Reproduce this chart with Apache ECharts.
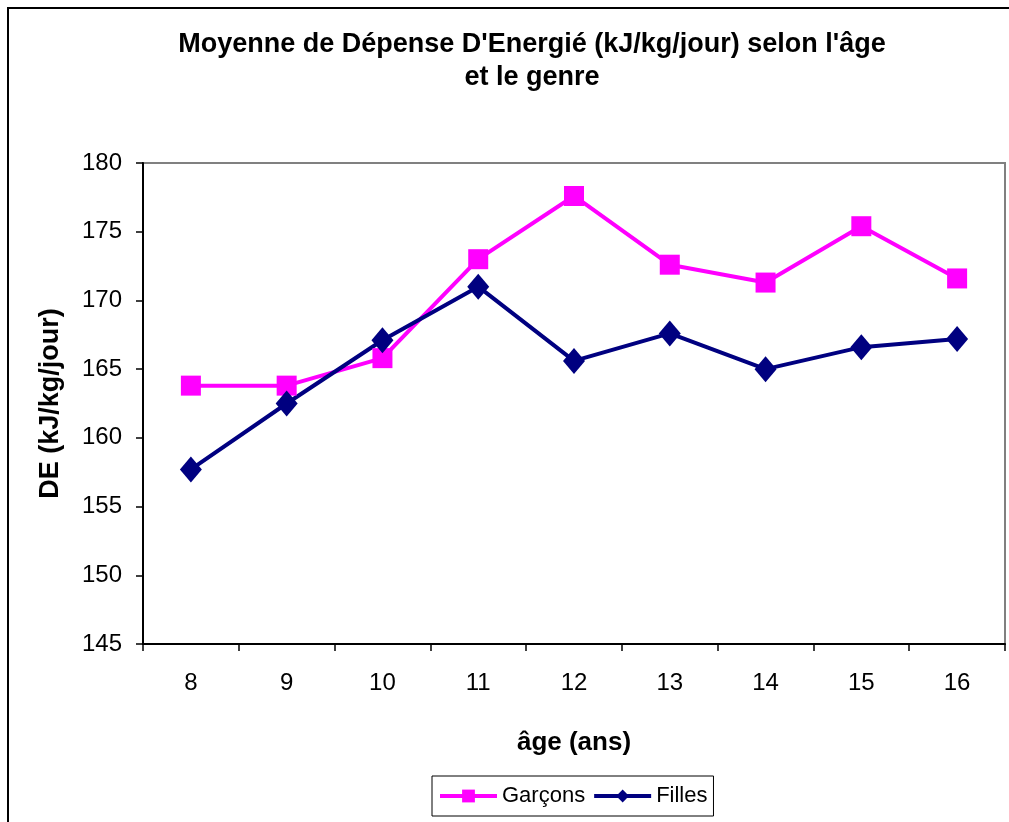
<!DOCTYPE html>
<html><head><meta charset="utf-8">
<script src="https://cdn.jsdelivr.net/npm/echarts@6/dist/echarts.min.js"></script>
<style>html,body{margin:0;padding:0;background:#fff}#c{width:1009px;height:822px}</style>
</head><body><div id="c"></div>
<script>
const categories = ['8','9','10','11','12','13','14','15','16'];
const garcons = [163.8, 163.8, 165.8, 173.0, 177.6, 172.6, 171.3, 175.4, 171.6];
const filles = [157.7, 162.5, 167.1, 171.0, 165.6, 167.6, 165.0, 166.6, 167.2];
const yMin = 145, yMax = 180, yStep = 5;

const chart = echarts.init(document.getElementById('c'), null, {renderer:'canvas'});
const font = '"Liberation Sans", Arial, sans-serif';
chart.setOption({
  backgroundColor: '#fff',
  animation: false,
  textStyle: {fontFamily: font},
  graphic: [{type:'rect', shape:{x:8, y:8, width:1100, height:1000}, style:{fill:'none', stroke:'#000', lineWidth:2}, silent:true}],
  title: {
    text: "Moyenne de Dépense D'Energié (kJ/kg/jour) selon l'âge\net le genre",
    left: 527, top: 23, textAlign: 'center',
    textStyle: {fontFamily: font, fontSize: 27, fontWeight: 'bold', color:'#000', lineHeight: 33}
  },
  legend: {
    left: 432, top: 776,
    padding: [9, 6, 9, 6],
    itemGap: 7,
    itemWidth: 57, itemHeight: 16,
    borderColor: '#000', borderWidth: 1,
    lineStyle: {width: 4},
    textStyle: {fontFamily: font, fontSize: 22, color:'#000', padding: [0,0,0,0]},
    data: ['Garçons','Filles']
  },
  grid: {left: 143, right: 4, top: 163, bottom: 178, show: true, borderColor: '#808080', borderWidth: 2},
  xAxis: {
    type: 'category', data: categories, boundaryGap: true,
    name: 'âge (ans)', nameLocation: 'middle', nameGap: 86,
    nameTextStyle: {fontFamily: font, fontSize: 26, fontWeight: 'bold', color:'#000'},
    axisLine: {lineStyle: {color:'#000', width: 2}},
    axisTick: {show: true, length: 7, lineStyle:{color:'#000', width:1.5}},
    axisLabel: {fontFamily: font, fontSize: 24, color:'#000', margin: 27}
  },
  yAxis: {
    type: 'value', min: yMin, max: yMax, interval: yStep,
    name: 'DE (kJ/kg/jour)', nameLocation: 'middle', nameGap: 79, nameRotate: 90,
    nameTextStyle: {fontFamily: font, fontSize: 27, fontWeight: 'bold', color:'#000'},
    axisLine: {show: true, lineStyle: {color:'#000', width: 2}},
    axisTick: {show: true, length: 7, lineStyle:{color:'#000', width:1.5}},
    axisLabel: {fontFamily: font, fontSize: 24, color:'#000', margin: 21},
    splitLine: {show: false}
  },
  series: [
    {name:'Garçons', type:'line', data: garcons, symbol:'rect', symbolSize: 20,
     lineStyle:{color:'#FF00FF', width:4}, itemStyle:{color:'#FF00FF'}},
    {name:'Filles', type:'line', data: filles, symbol:'diamond', symbolSize: [22,26],
     lineStyle:{color:'#000080', width:4}, itemStyle:{color:'#000080'}}
  ]
});
</script></body></html>
